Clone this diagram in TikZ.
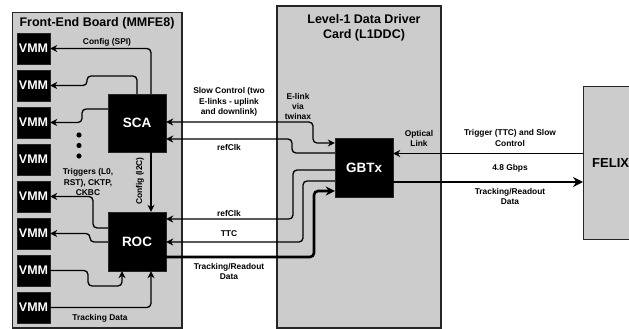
\documentclass[tikz,border=0pt]{standalone}
\usepackage{fontspec}
\setmainfont{Liberation Sans}
\usetikzlibrary{arrows.meta}
\begin{document}
\begin{tikzpicture}[x=1pt,y=-1pt,
  board/.style={draw=black!85,line width=1.1pt,fill=black!20},
  chip/.style={draw=black!85,fill=black,text=white,font=\bfseries\fontsize{12.5}{14}\selectfont,inner sep=0pt},
  vmm/.style={chip,minimum width=33pt,minimum height=31pt},
  big/.style={chip,minimum width=58pt,minimum height=58pt,font=\bfseries\fontsize{13.5}{15}\selectfont},
  wire/.style={line width=1.3pt,rounded corners=4pt},
  fat/.style={line width=2.6pt,rounded corners=4pt},
  tip/.style={-{Stealth[length=7pt,width=7pt]}},
  lbl/.style={font=\bfseries\fontsize{8.4}{10.4}\selectfont,align=center,inner sep=0pt},
  ttl/.style={font=\bfseries\fontsize{12.5}{14.5}\selectfont,align=center,inner sep=0pt}]
\useasboundingbox (0,0) rectangle (629,329);
\clip (0,0) rectangle (629,329);

% boards
\draw[board] (12.5,12.5) rectangle (182,328);
\draw[board] (277,6) rectangle (441,328);
\node[draw=black!85,line width=1.1pt,fill=black!20,minimum width=60pt,minimum height=153pt,anchor=north west,inner sep=0pt] (felix) at (583,86) {};
\node[font=\bfseries\fontsize{13}{15}\selectfont,anchor=west,inner sep=0pt] (felixtxt) at (592,163.5) {FELIX};

\node[ttl] (fetitle) at (97,23) {Front-End Board (MMFE8)};
\node[ttl] (l1title) at (364,28) {Level-1 Data Driver\\Card (L1DDC)};

% VMM chips
\foreach \i/\y in {1/48.5,2/85.5,3/122.5,4/159.5,5/196.5,6/233.5,7/270.5,8/307.5}
  \node[vmm] (vmm\i) at (33.5,\y) {VMM};

\node[big] (sca) at (137,123) {SCA};
\node[big,minimum height=59pt] (roc) at (137,241.5) {ROC};
\node[big,minimum height=59pt] (gbtx) at (364,167.5) {GBTx};

% dots between chips
\foreach \y [count=\k] in {135,145.5,156}
  \fill (79,\y) circle (2.6pt) coordinate (dot\k);

% front-end wiring
\draw[wire,tip] (sca.north -| 151,0) -- (151,48.5) -- (vmm1.east);
\draw[wire,tip] (sca.north -| 137,0) -- (137,76) -- (87,76) -- (87,85.5) -- (vmm2.east);
\draw[wire,tip] (sca.west |- 0,109) -- (82,109) -- (82,122.5) -- (vmm3.east);
\draw[wire,tip] (sca.south -| 151,0) -- (roc.north -| 151,0);
\draw[wire,tip] (roc.west |- 0,228) -- (93,228) -- (93,196.5) -- (vmm5.east);
\draw[wire,tip] (roc.west |- 0,242) -- (90,242) -- (90,233.5) -- (vmm6.east);
\draw[wire,tip] (vmm7.east) -- (88,270.5) -- (88,286) -- (122,286) -- (roc.south -| 122,0);
\draw[wire,tip] (vmm8.east) -- (151,307.5) -- (roc.south -| 151,0);

\node[lbl] (spi) at (107,42) {Config (SPI)};
\node[lbl,rotate=90] (i2c) at (140,181) {Config (I2C)};
\node[lbl] (trig) at (88,182) {Triggers (L0,\\RST), CKTP,\\CKBC};
\node[lbl] (trk) at (100,318) {Tracking Data};

% links between boards
\draw[wire,{Stealth[length=7pt,width=7pt]}-{Stealth[length=7pt,width=7pt]}] (sca.east |- 0,122) -- (313,122) -- (313,143) -- (gbtx.west |- 0,143);
\draw[wire,tip] (gbtx.west |- 0,153) -- (292,153) -- (292,139) -- (sca.east |- 0,139);
\draw[wire,tip] (gbtx.west |- 0,170) -- (293,170) -- (293,219) -- (roc.east |- 0,219);
\draw[wire,tip] (gbtx.west |- 0,181) -- (303,181) -- (303,242) -- (roc.east |- 0,242);
\draw[fat,-{Stealth[length=9pt,width=9pt]}] (roc.east |- 0,257) -- (314,257) -- (314,191) -- (gbtx.west |- 0,191);

\node[lbl] (sc) at (229,102) {Slow Control (two\\E-links - uplink\\and downlink)};
\node[lbl] (rc1) at (229,147) {refClk};
\node[lbl] (rc2) at (229,213) {refClk};
\node[lbl] (ttc) at (229,234) {TTC};
\node[lbl] (trd) at (229,271.5) {Tracking/Readout\\Data};
\node[lbl] (elink) at (298,106.5) {E-link\\via\\twinax};

% optical links to FELIX
\draw[wire,tip] (felix.west |- 0,153.5) -- (gbtx.east |- 0,153.5);
\draw[fat,-{Stealth[length=10pt,width=10pt]}] (gbtx.east |- 0,182) -- (felix.west |- 0,182);

\node[lbl] (opt) at (419,138.5) {Optical\\Link};
\node[lbl] (ttcsc) at (510,138) {Trigger (TTC) and Slow\\Control};
\node[lbl] (gbps) at (510,168) {4.8 Gbps};
\node[lbl] (trd2) at (510,196.5) {Tracking/Readout\\Data};
\end{tikzpicture}
\end{document}
